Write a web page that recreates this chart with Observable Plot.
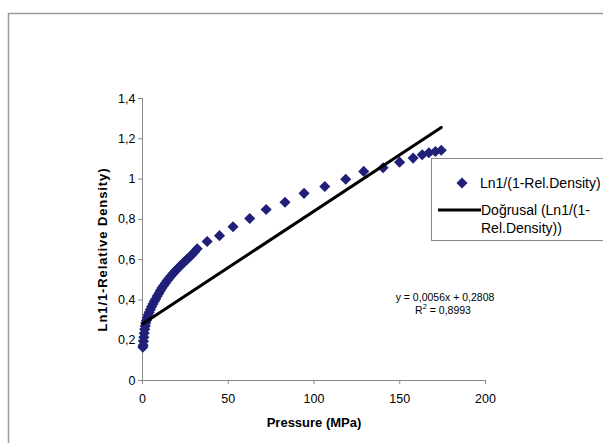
<!DOCTYPE html>
<html><head><meta charset="utf-8">
<script src="https://cdn.jsdelivr.net/npm/d3@7"></script>
<script src="https://cdn.jsdelivr.net/npm/@observablehq/plot@0.6"></script>
<style>
html,body{margin:0;padding:0;background:#fff;}
#chart{position:relative;width:603px;height:443px;overflow:hidden;}
svg{display:block;}
</style></head><body><div id="chart"></div>
<script>
// ---- data ----
const pressure = [0.2,0.4,0.6,0.8,1.0,1.3,1.6,1.9,2.3,2.8,3.3,3.9,4.6,5.3,6.1,6.9,7.7,8.6,9.5,10.4,11.3,12.3,13.3,14.4,15.5,16.7,17.9,19.1,20.4,21.7,23.0,24.4,25.8,27.3,28.8,30.3,31.9,37.7,44.9,52.8,62.5,72.1,83.1,94.2,106.3,118.5,129.0,140.3,149.9,157.8,163.1,167.0,170.8,174.2];
const lnDensity = [0.165,0.175,0.195,0.215,0.235,0.255,0.27,0.285,0.298,0.312,0.326,0.339,0.352,0.366,0.38,0.393,0.405,0.419,0.432,0.446,0.459,0.471,0.483,0.496,0.508,0.52,0.532,0.543,0.555,0.566,0.577,0.589,0.6,0.612,0.624,0.638,0.654,0.69,0.719,0.763,0.804,0.849,0.885,0.929,0.963,0.999,1.038,1.056,1.084,1.104,1.121,1.131,1.137,1.143];
const xTicks = [0,50,100,150,200];
const yTicks = [0,0.2,0.4,0.6,0.8,1,1.2,1.4];
const trendSlope = 0.0056;
const trendIntercept = 0.2808;
const rSquared = "0,8993";
const seriesName = "Ln1/(1-Rel.Density)";
const trendNameLines = ["Doğrusal (Ln1/(1-", "Rel.Density))"];
const xLabel = "Pressure (MPa)";
const yLabel = "Ln1/1-Relative Density)";

const markerColor = "#202078";
const axisColor = "#888";
const font = "'Liberation Sans', Arial, sans-serif";
const markerR = 5;

const data = pressure.map((p, i) => ({p, v: lnDensity[i]}));
const xMax = d3.max(pressure);
const trend = [0, xMax].map(p => ({p, v: trendSlope * p + trendIntercept}));
const fmt = v => String(v).replace(".", ",");

const plot = Plot.plot({
  width: 603, height: 443,
  marginLeft: 142, marginRight: 118, marginTop: 98, marginBottom: 63,
  style: {fontFamily: font, background: "transparent", color: "#000"},
  x: {domain: [0, 200]},
  y: {domain: [0, 1.4]},
  marks: [
    Plot.axisX({ticks: xTicks, tickSize: 4, tickPadding: 10, tickFormat: fmt, label: null, stroke: axisColor, fill: "#000", fontSize: 12.5}),
    Plot.axisY({ticks: yTicks, tickSize: 4, tickPadding: 3, tickFormat: fmt, label: null, stroke: axisColor, fill: "#000", fontSize: 12.5}),
    Plot.ruleY([0], {stroke: axisColor}),
    Plot.ruleX([0], {stroke: axisColor}),
    Plot.dot(data, {x: "p", y: "v", symbol: "diamond2", r: markerR, fill: markerColor, stroke: null}),
    Plot.line(trend, {x: "p", y: "v", stroke: "#000", strokeWidth: 3}),
    Plot.text([xLabel], {frameAnchor: "bottom", dy: 46, text: d => d, fontWeight: "bold", fontSize: 13, textAnchor: "middle"}),
    Plot.text([yLabel], {frameAnchor: "left", dx: -40, dy: 10, rotate: -90, text: d => d, fontWeight: "bold", fontSize: 13, textAnchor: "middle"})
  ]
});
document.getElementById("chart").appendChild(plot);

const svg = d3.select(plot);
svg.selectAll("text").filter(function(){ return this.textContent === yLabel; }).style("letter-spacing", "0.9px");

// outer chart frame
svg.append("path").attr("d", "M8.5,443V13.5H603").attr("fill", "none").attr("stroke", "#9a9a9a").attr("stroke-width", 1.5);

// trendline equation
const eq = svg.append("g").attr("font-family", font).attr("font-size", 10.5).attr("text-anchor", "middle");
eq.append("text").attr("x", 445).attr("y", 300.5).text(`y = ${fmt(trendSlope)}x + ${fmt(trendIntercept)}`);
const r2 = eq.append("text").attr("x", 443).attr("y", 313.5);
r2.append("tspan").text("R");
r2.append("tspan").attr("font-size", 7.5).attr("dy", -5).text("2");
r2.append("tspan").attr("dy", 5).text(" = " + rSquared);

// legend
const lg = svg.append("g").attr("font-family", font).attr("font-size", 14).attr("text-anchor", "start");
lg.append("rect").attr("x", 431.5).attr("y", 158.5).attr("width", 200).attr("height", 82).attr("fill", "#fff").attr("stroke", axisColor);
lg.append("path").attr("transform", "translate(462,183)").attr("d", d3.symbol(d3.symbolDiamond2, Math.PI * markerR * markerR)()).attr("fill", markerColor);
lg.append("text").attr("x", 480).attr("y", 188).text(seriesName);
lg.append("line").attr("x1", 438).attr("x2", 481).attr("y1", 210).attr("y2", 210).attr("stroke", "#000").attr("stroke-width", 3);
trendNameLines.forEach((t, i) => lg.append("text").attr("x", 481).attr("y", 215 + i * 18).text(t));
</script></body></html>
